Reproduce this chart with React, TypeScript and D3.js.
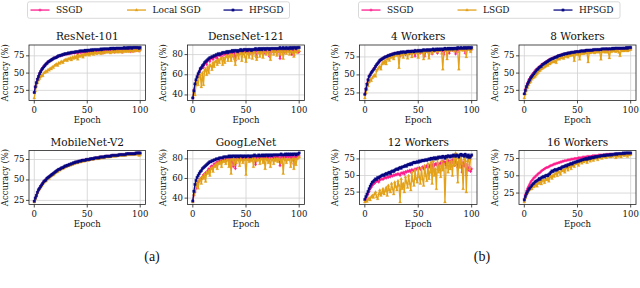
import React from "react";
import * as d3 from "d3";

// ---------- data (accuracy %, epochs 0..100) ----------
const epochs = d3.range(0, 101);

const resnetSSGD = [22,31,37,42,46,50,53,55,58,60, 61,63,65,66,67,68,69,70,71,72, 72,73,74,74,75,75,76,76,77,77, 77,78,78,78,79,79,79,80,79,80, 80,78,80,81,79,81,80,81,79,81, 81,80,82,79,82,81,82,80,82,82, 81,82,80,82,82,79,83,82,81,83, 82,83,81,83,82,83,80,83,83,82, 83,82,84,80,83,84,83,82,84,83, 84,81,84,83,84,82,84,84,83,82, 84];
const resnetLocal = [14,24,31,36,40,42,45,47,46,50, 51,53,52,55,54,57,56,59,58,61, 62,63,61,65,64,66,67,65,68,69, 70,68,71,70,72,69,73,71,74,72, 75,70,76,74,75,77,73,77,76,78, 77,78,76,79,78,79,77,80,79,78, 80,79,81,78,80,81,79,81,80,82, 80,81,79,82,81,80,82,81,82,80, 82,81,83,80,82,83,81,83,82,81, 83,82,84,81,83,84,82,83,84,82, 84];
const resnetHPSGD = [22,30,36,41,45,49,52,55,57,59, 61,63,64,66,67,68,69,70,71,72, 72,73,74,75,75,76,76,77,77,78, 78,78,79,79,79,80,80,80,80,81, 81,81,81,82,82,82,82,82,83,82, 83,83,83,83,84,83,84,84,84,84, 84,84,84,85,84,85,85,85,85,85, 85,85,86,85,86,86,85,86,86,86, 86,86,86,86,86,87,86,86,87,86, 87,87,86,87,87,87,87,87,87,86, 87];

const densenetSSGD = [37,45,50,54,57,60,63,65,66,68, 67,71,72,70,74,75,73,76,77,75, 78,77,79,76,80,79,80,78,81,80, 80,81,79,82,81,80,82,82,78,82, 74,82,83,81,83,82,83,80,83,83, 82,83,84,80,83,84,82,83,84,83, 77,83,84,83,82,84,83,84,81,84, 83,84,78,84,83,84,82,84,83,84, 84,83,76,84,83,84,82,84,83,84, 84,83,84,80,84,79,84,83,84,82, 83];
const densenetLocal = [38,43,40,50,53,50,58,60,48,62, 50,64,66,60,68,62,70,69,65,72, 68,73,74,70,75,72,76,77,70,77, 72,78,79,74,78,80,74,79,80,76, 70,81,80,76,81,82,74,81,82,78, 73,82,81,77,82,83,76,82,83,79, 75,82,83,78,83,82,77,84,83,80, 82,84,80,75,83,84,80,84,83,79, 84,83,80,84,83,76,84,83,81,84, 83,80,84,83,82,78,84,83,82,84, 84];
const densenetHPSGD = [37,44,51,55,58,61,63,66,67,69, 70,72,73,74,75,76,77,77,78,78, 79,79,80,80,81,80,81,81,82,82, 82,82,83,82,83,83,83,84,83,84, 84,84,83,84,84,85,84,84,85,85, 85,84,85,85,85,84,85,85,85,86, 85,85,86,85,86,85,86,86,85,86, 86,86,85,86,86,86,86,86,86,86, 86,86,87,86,86,87,86,86,87,86, 86,87,86,87,86,87,87,86,87,87, 87];

const mobilenetSSGD = [24,28,32,35,38,40,43,44,46,48, 49,51,52,53,54,55,56,57,58,59, 60,61,61,62,63,64,64,65,66,66, 67,67,68,68,69,69,70,70,71,71, 72,72,72,73,73,73,74,74,74,74, 75,75,75,75,76,76,76,76,77,77, 77,77,77,78,78,78,78,78,79,79, 79,79,79,79,80,80,80,80,80,80, 80,81,81,81,81,81,81,81,82,82, 82,82,82,82,82,82,82,82,83,83, 82];
const mobilenetLocal = [23,27,30,34,37,39,41,43,45,47, 48,49,51,52,52,54,55,56,56,58, 59,60,60,62,62,63,64,64,65,66, 66,67,67,68,68,69,69,70,70,71, 71,71,72,72,72,73,73,73,74,74, 74,74,75,75,75,75,76,76,76,76, 77,76,77,77,77,78,77,78,78,78, 78,78,79,79,79,79,79,79,80,80, 80,80,80,80,80,81,80,81,81,81, 81,81,81,81,82,81,82,82,81,80, 81];
const mobilenetHPSGD = [24,28,31,35,38,40,42,44,46,48, 49,50,52,53,54,55,56,57,58,59, 60,61,62,63,63,64,65,65,66,67, 67,68,68,69,69,70,70,71,71,72, 72,72,73,73,73,74,74,74,74,75, 75,75,75,76,76,76,76,77,77,77, 77,77,78,78,78,78,78,79,79,79, 79,79,79,80,80,80,80,80,80,80, 81,81,81,81,81,81,81,82,82,82, 82,82,82,82,82,82,83,83,83,83, 83];

const googlenetSSGD = [37,43,46,50,54,56,58,60,59,62, 64,63,66,65,68,70,69,72,73,72, 75,74,76,77,76,78,78,77,79,79, 78,80,79,80,78,80,76,80,72,79, 70,80,81,79,81,80,81,79,81,81, 80,81,80,81,79,81,81,80,81,74, 81,82,80,81,82,81,82,80,82,81, 82,81,82,80,82,82,81,82,81,82, 82,81,73,82,81,82,80,82,82,81, 82,81,82,80,82,75,82,82,81,83, 83];
const googlenetLocal = [36,44,48,52,55,50,58,60,55,62, 60,64,57,66,65,68,63,70,71,67, 73,72,75,70,76,75,77,72,78,77, 78,75,79,79,72,79,65,80,79,74, 80,76,80,79,73,80,79,76,80,79, 64,80,79,77,80,78,80,72,80,79, 78,80,79,75,80,80,76,80,70,80, 79,76,80,72,80,79,75,80,78,80, 77,80,79,76,80,65,80,79,76,80, 79,80,72,79,80,70,80,74,80,81, 82];
const googlenetHPSGD = [37,47,54,58,61,63,65,67,68,70, 71,72,73,74,75,76,77,77,78,78, 79,79,80,80,80,81,81,81,81,82, 82,82,82,82,83,82,83,82,83,83, 82,83,83,82,83,83,83,82,83,83, 82,83,83,83,82,83,83,83,84,83, 83,83,84,83,83,84,83,84,83,84, 84,83,84,84,83,84,84,84,84,84, 84,84,84,85,84,84,84,85,84,85, 84,85,84,85,84,85,85,84,85,85, 86];

const w4SSGD = [23,31,38,44,48,51,53,55,58,60, 61,64,66,67,69,71,72,73,73,75, 75,76,76,77,78,77,79,78,80,79, 80,79,81,76,81,80,82,81,78,82, 82,81,79,82,83,81,82,76,83,82, 83,82,80,83,82,84,76,83,84,82, 84,83,84,79,84,83,84,85,80,84, 84,85,83,84,78,85,84,85,86,80, 85,86,84,85,86,79,85,86,84,86, 86,85,86,87,80,86,85,87,85,86, 85];
const w4LSGD = [18,25,30,35,40,44,42,46,48,50, 48,56,58,60,62,58,65,68,66,70, 65,72,73,70,75,74,76,72,77,78, 77,79,60,79,78,80,74,80,79,81, 73,81,80,82,75,81,82,80,83,81, 74,82,83,81,82,72,83,82,84,83, 73,83,84,80,84,83,85,84,82,85, 84,85,80,58,85,84,86,72,85,84, 86,84,85,86,83,85,86,82,58,86, 85,86,84,87,85,75,86,87,85,82, 86];
const w4HPSGD = [23,30,37,43,48,50,53,55,57,59, 62,64,66,68,70,71,72,73,74,75, 75,76,77,77,78,78,79,79,80,80, 80,81,80,81,82,81,82,82,81,82, 83,82,83,82,83,83,82,84,83,83, 84,83,84,83,84,85,84,84,85,84, 85,84,85,85,86,84,85,86,85,86, 85,86,86,85,86,87,86,86,87,86, 87,86,87,86,87,87,86,88,87,87, 88,87,87,88,87,88,87,88,88,87, 88];

const w8SSGD = [20,27,32,36,40,42,45,47,49,51, 53,55,56,58,59,60,62,63,64,65, 66,67,68,69,70,70,71,72,72,73, 74,74,75,75,76,76,77,77,77,78, 78,78,79,79,79,80,80,80,80,81, 81,80,81,81,82,81,82,82,82,81, 82,82,83,82,83,83,82,83,83,84, 83,84,84,83,84,84,84,85,84,84, 85,84,85,85,84,85,85,83,85,85, 85,85,84,86,85,85,86,85,84,86, 85];
const w8LSGD = [14,20,25,29,33,36,38,41,43,44, 45,47,49,51,53,54,56,57,58,59, 60,62,61,64,63,65,66,67,66,68, 65,70,71,70,72,72,73,71,74,74, 75,73,76,75,76,77,76,68,78,77, 78,77,70,79,78,79,78,79,80,79, 66,80,79,80,81,80,79,81,80,82, 81,80,70,81,82,81,80,82,81,80, 72,82,81,83,82,82,81,83,82,80, 75,83,82,83,82,84,83,82,83,84, 84];
const w8HPSGD = [20,25,30,34,37,40,43,45,47,49, 51,53,55,56,58,59,60,62,63,64, 65,66,67,68,69,70,71,71,72,73, 73,74,75,75,76,76,77,77,78,78, 78,79,79,79,80,80,80,80,81,81, 81,81,81,82,82,82,82,82,83,83, 83,83,83,83,83,84,84,84,84,84, 84,84,84,85,85,85,85,85,85,85, 85,85,85,86,85,86,86,86,86,86, 86,86,86,86,86,86,87,86,87,87, 87];

const w12SSGD = [13,15,19,22,26,30,32,35,37,38, 40,41,42,40,43,44,45,44,46,47, 46,48,47,49,48,50,49,51,50,52, 51,53,52,50,54,53,55,52,56,55, 57,56,58,55,59,58,57,60,59,61, 60,62,59,61,63,60,64,62,65,63, 62,66,64,67,60,65,68,66,69,64, 67,70,66,72,68,71,65,70,73,69, 72,68,74,70,65,73,69,62,71,67, 73,55,70,64,68,50,66,58,63,56, 60];
const w12LSGD = [10,12,11,14,16,13,18,20,17,22, 25,18,15,22,28,20,24,30,22,27, 32,20,35,28,25,38,30,22,40,33, 28,42,35,10,45,30,38,25,48,40, 32,50,38,28,55,42,35,58,45,40, 60,48,38,62,45,35,65,50,42,68, 45,55,70,38,72,50,60,30,75,55, 65,48,72,58,68,10,62,75,55,70, 60,72,50,78,65,84,70,40,76,62, 80,68,30,75,82,25,72,78,60,76, 80];
const w12HPSGD = [14,18,22,26,30,34,37,40,41,43, 45,44,47,46,48,49,50,51,50,52, 53,52,54,55,53,56,57,56,58,59, 60,59,61,62,61,63,63,64,65,64, 66,67,66,68,67,69,70,69,70,71, 70,72,71,72,73,72,73,74,73,74, 75,74,76,75,76,77,75,77,76,78, 77,78,77,79,78,76,79,78,80,79, 78,80,79,81,80,79,81,80,78,81, 82,80,81,79,82,80,78,81,77,79, 81];

const w16SSGD = [17,23,28,32,35,38,41,43,45,47, 48,50,51,53,54,55,57,58,59,60, 61,62,62,63,64,65,65,66,67,67, 68,68,69,69,70,70,71,71,72,72, 72,73,73,73,74,74,74,75,75,75, 75,76,76,76,76,77,77,77,77,78, 78,78,78,78,79,79,79,79,79,79, 80,80,80,80,80,80,80,81,81,81, 81,81,81,81,81,81,81,81,81,81, 82,81,82,82,82,81,82,82,82,81, 81];
const w16LSGD = [12,18,22,25,28,30,32,31,35,34, 36,38,35,40,39,42,38,43,44,40, 45,44,47,42,48,50,46,51,49,53, 54,50,56,55,52,58,57,60,55,61, 62,58,63,64,60,65,66,63,68,67, 69,65,70,71,68,72,70,73,72,69, 73,74,71,75,74,72,76,75,77,73, 77,76,78,75,78,77,79,76,79,78, 79,77,80,78,80,79,76,80,78,80, 79,77,80,81,79,80,81,78,81,80, 81];
const w16HPSGD = [15,20,24,27,30,32,34,36,38,39, 41,42,43,44,46,45,47,48,49,48, 50,51,50,52,53,55,57,56,58,59, 58,59,60,61,60,62,63,63,64,65, 64,66,66,67,68,67,69,69,70,70, 71,71,72,72,73,73,74,74,75,74, 75,76,75,76,77,76,77,78,77,78, 78,78,79,79,79,80,79,80,80,80, 80,81,80,81,81,81,82,81,82,82, 82,82,82,83,82,83,83,83,83,83, 83];

const xTicks = [0, 50, 100];
const yTicksA = [25, 50, 75];
const yTicksB = [40, 60, 80];

const legendLabelsA = ["SSGD", "Local SGD", "HPSGD"];
const legendLabelsB = ["SSGD", "LSGD", "HPSGD"];

type PanelDef = { title: string; series: number[][]; yTicks: number[] };

const panels: PanelDef[] = [
  { title: "ResNet-101", series: [resnetSSGD, resnetLocal, resnetHPSGD], yTicks: yTicksA },
  { title: "DenseNet-121", series: [densenetSSGD, densenetLocal, densenetHPSGD], yTicks: yTicksB },
  { title: "MobileNet-V2", series: [mobilenetSSGD, mobilenetLocal, mobilenetHPSGD], yTicks: yTicksA },
  { title: "GoogLeNet", series: [googlenetSSGD, googlenetLocal, googlenetHPSGD], yTicks: yTicksB },
  { title: "4 Workers", series: [w4SSGD, w4LSGD, w4HPSGD], yTicks: yTicksA },
  { title: "8 Workers", series: [w8SSGD, w8LSGD, w8HPSGD], yTicks: yTicksA },
  { title: "12 Workers", series: [w12SSGD, w12LSGD, w12HPSGD], yTicks: yTicksA },
  { title: "16 Workers", series: [w16SSGD, w16LSGD, w16HPSGD], yTicks: yTicksA },
];

// ---------- styling / layout ----------
const COLORS = ["#ff1c8d", "#e3a21a", "#0b0b85"];
const FONT = "'DejaVu Serif', serif";
const TEXT = "#111";
const colX = [29, 187.5, 359.5, 519];
const colW = [116.5, 117, 117.5, 117];
const rowY = [45, 150.5];
const rowH = [55.5, 54];

function markerPath(kind: number, x: number, y: number): string {
  if (kind === 0) return `M${x - 1.5},${y}h3M${x},${y - 1.5}v3`;
  if (kind === 1) return `M${x},${y - 1.6}L${x + 1.5},${y + 1}L${x - 1.5},${y + 1}Z`;
  return `M${x - 1.2},${y - 1.2}h2.4v2.4h-2.4Z`;
}

function Panel({ def, x0, y0, w, h }: { def: PanelDef; x0: number; y0: number; w: number; h: number }) {
  const xs = d3.scaleLinear().domain([-5, 105]).range([x0, x0 + w]);
  const all = def.series.flat();
  const [mn, mx] = d3.extent(all) as [number, number];
  const pad = (mx - mn) * 0.05;
  const ys = d3.scaleLinear().domain([mn - pad, mx + pad]).range([y0 + h, y0]);
  const line = d3
    .line<number>()
    .x((_, i) => xs(epochs[i]))
    .y((d) => ys(d));
  const clipId = `clip-${def.title.replace(/[^a-zA-Z0-9]/g, "")}`;
  return (
    <g>
      <defs>
        <clipPath id={clipId}>
          <rect x={x0} y={y0} width={w} height={h} />
        </clipPath>
      </defs>
      {xTicks.map((t) => (
        <line key={`gx${t}`} x1={xs(t)} x2={xs(t)} y1={y0} y2={y0 + h} stroke="#d0d0d0" strokeWidth={0.8} />
      ))}
      {def.yTicks.map((t) => (
        <line key={`gy${t}`} x1={x0} x2={x0 + w} y1={ys(t)} y2={ys(t)} stroke="#d0d0d0" strokeWidth={0.8} />
      ))}
      <g clipPath={`url(#${clipId})`}>
        {def.series.map((s, k) => (
          <g key={k}>
            <path d={line(s) ?? ""} fill="none" stroke={COLORS[k]} strokeWidth={1.3} strokeLinejoin="round" />
            <path
              d={s.map((v, i) => markerPath(k, xs(epochs[i]), ys(v))).join("")}
              fill={k === 0 ? "none" : COLORS[k]}
              stroke={COLORS[k]}
              strokeWidth={k === 0 ? 0.8 : 0.3}
            />
          </g>
        ))}
      </g>
      <rect x={x0} y={y0} width={w} height={h} fill="none" stroke="#222" strokeWidth={0.8} />
      {xTicks.map((t) => (
        <g key={`tx${t}`}>
          <line x1={xs(t)} x2={xs(t)} y1={y0 + h} y2={y0 + h + 3} stroke="#222" strokeWidth={0.8} />
          <text x={xs(t)} y={y0 + h + 10} fontSize={8.5} fontFamily={FONT} textAnchor="middle" dominantBaseline="middle" fill={TEXT}>
            {t}
          </text>
        </g>
      ))}
      {def.yTicks.map((t) => (
        <g key={`ty${t}`}>
          <line x1={x0 - 3} x2={x0} y1={ys(t)} y2={ys(t)} stroke="#222" strokeWidth={0.8} />
          <text x={x0 - 4.5} y={ys(t)} fontSize={8.5} fontFamily={FONT} textAnchor="end" dominantBaseline="middle" fill={TEXT}>
            {t}
          </text>
        </g>
      ))}
      <text x={x0 + w / 2} y={y0 + h + 20} fontSize={8.5} fontFamily={FONT} textAnchor="middle" dominantBaseline="middle" fill={TEXT}>
        Epoch
      </text>
      <text
        transform={`translate(${x0 - 24},${y0 + h / 2}) rotate(-90)`}
        fontSize={8.5}
        fontFamily={FONT}
        textAnchor="middle"
        dominantBaseline="middle"
        fill={TEXT}
      >
        Accuracy (%)
      </text>
      <text x={x0 + w / 2} y={y0 - 8} fontSize={10.5} fontFamily={FONT} textAnchor="middle" dominantBaseline="middle" fill={TEXT}>
        {def.title}
      </text>
    </g>
  );
}

function Legend({ x, y, w, labels, spacing }: { x: number; y: number; w: number; labels: string[]; spacing: number }) {
  return (
    <g>
      <rect x={x} y={y} width={w} height={16.5} rx={2} fill="#fff" stroke="#cfcfcf" strokeWidth={0.8} />
      {labels.map((lab, k) => {
        const lx = x + 3 + k * spacing;
        const cy = y + 8.25;
        return (
          <g key={lab}>
            <line x1={lx} x2={lx + 19} y1={cy} y2={cy} stroke={COLORS[k]} strokeWidth={1.3} />
            <path d={markerPath(k, lx + 9.5, cy)} fill={k === 0 ? "none" : COLORS[k]} stroke={COLORS[k]} strokeWidth={k === 0 ? 0.8 : 0.3} />
            <text x={lx + 25.5} y={cy} fontSize={9} fontFamily={FONT} dominantBaseline="middle" fill={TEXT}>
              {lab}
            </text>
          </g>
        );
      })}
    </g>
  );
}

export default function App() {
  return (
    <svg width={640} height={288} style={{ position: "absolute", left: 0, top: 0, background: "#fff" }}>
      <rect width={640} height={288} fill="#fff" />
      <Legend x={27.5} y={1.8} w={262} labels={legendLabelsA} spacing={96.5} />
      <Legend x={358.5} y={1.8} w={261.5} labels={legendLabelsB} spacing={96} />
      {panels.map((p, i) => {
        const group = i < 4 ? 0 : 1;
        const local = i % 4;
        const col = group * 2 + (local % 2);
        const row = Math.floor(local / 2);
        return <Panel key={p.title} def={p} x0={colX[col]} y0={rowY[row]} w={colW[col]} h={rowH[row]} />;
      })}
      <text x={152} y={258} fontSize={14} fontFamily="'Liberation Serif', serif" textAnchor="middle" dominantBaseline="middle" fill={TEXT}>
        (a)
      </text>
      <text x={482} y={258} fontSize={14} fontFamily="'Liberation Serif', serif" textAnchor="middle" dominantBaseline="middle" fill={TEXT}>
        (b)
      </text>
    </svg>
  );
}
